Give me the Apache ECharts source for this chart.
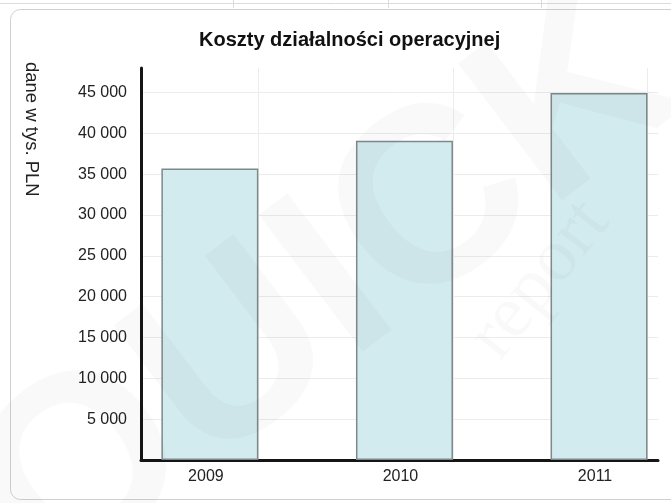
<!DOCTYPE html>
<html lang="pl" style="height: 100%">

<head>
  <meta charset="utf-8">
</head>

<body style="height: 100%; margin: 0; background: #fff">
  <div id="container" style="height: 100%"></div>

  <script type="text/javascript" src="https://cdn.jsdelivr.net/npm/echarts@6/dist/echarts.min.js"></script>

  <script type="text/javascript">
    // dane
    var years = [2009, 2010, 2011];
    var costs = [35700, 39100, 44950];
    var yTicks = [5000, 10000, 15000, 20000, 25000, 30000, 35000, 40000, 45000];
    var titleText = 'Koszty działalności operacyjnej';
    var unitText = 'dane w tys. PLN';

    var dom = document.getElementById('container');
    var myChart = echarts.init(dom, null, { renderer: 'canvas' });

    function spaced(v) {
      return String(v).replace(/\B(?=(\d{3})+(?!\d))/g, ' ');
    }

    var option = {
      animation: false,
      title: {
        text: titleText,
        left: 194,
        top: 25,
        textStyle: {
          fontFamily: 'Liberation Sans',
          fontSize: 20,
          fontWeight: 'bold',
          color: '#111'
        }
      },
      graphic: [
        {
          type: 'rect',
          shape: { x: 10.5, y: 9.5, width: 720, height: 490, r: 10 },
          style: { fill: 'none', stroke: '#cfcfcf', lineWidth: 1 },
          z: -1
        },
        {
          type: 'line',
          shape: { x1: 0, y1: 3.5, x2: 671, y2: 3.5 },
          style: { stroke: '#dcdcdc', lineWidth: 1 }
        },
        { type: 'line', shape: { x1: 233.5, y1: 0, x2: 233.5, y2: 8 }, style: { stroke: '#dcdcdc' } },
        { type: 'line', shape: { x1: 388.5, y1: 0, x2: 388.5, y2: 8 }, style: { stroke: '#dcdcdc' } },
        { type: 'line', shape: { x1: 541.5, y1: 0, x2: 541.5, y2: 8 }, style: { stroke: '#dcdcdc' } },
        {
          type: 'text',
          x: 22,
          y: 62,
          rotation: -Math.PI / 2,
          style: {
            text: unitText,
            fontFamily: 'Liberation Sans',
            fontSize: 18.5,
            fill: '#222',
            align: 'left',
            verticalAlign: 'bottom'
          }
        },
        // znak wodny
        {
          type: 'text',
          x: 330,
          y: 290,
          rotation: 0.65,
          z: 100,
          style: {
            text: 'QUICK',
            fontFamily: 'Liberation Sans',
            fontWeight: 'bold',
            fontSize: 250,
            fill: 'rgba(0,0,0,0.025)',
            align: 'center',
            verticalAlign: 'middle'
          }
        },
        {
          type: 'text',
          x: 540,
          y: 280,
          rotation: 0.9,
          z: 100,
          style: {
            text: 'report',
            fontFamily: 'Liberation Serif',
            fontSize: 75,
            fill: 'rgba(0,0,0,0.025)',
            align: 'center',
            verticalAlign: 'middle'
          }
        }
      ],
      grid: {
        left: 141,
        right: 13,
        top: 68,
        bottom: 43,
        containLabel: false
      },
      xAxis: {
        type: 'value',
        min: 2008.646,
        max: 2011.303,
        axisLine: {
          show: true,
          onZero: false,
          lineStyle: { color: '#151515', width: 3 }
        },
        axisTick: {
          show: false,
          customValues: years.map(function (y) { return y + 0.25; })
        },
        splitLine: {
          show: true,
          lineStyle: { color: '#ececec', width: 1 }
        },
        axisLabel: {
          customValues: years,
          formatter: function (v) { return String(v); },
          margin: 9,
          padding: [0, 8, 0, 0],
          fontFamily: 'Liberation Sans',
          fontSize: 16,
          color: '#222'
        }
      },
      yAxis: {
        type: 'value',
        min: 0,
        max: 48000,
        interval: 5000,
        axisLine: {
          show: true,
          lineStyle: { color: '#151515', width: 3 }
        },
        axisTick: { show: false },
        splitLine: {
          show: true,
          showMinLine: false,
          showMaxLine: false,
          lineStyle: { color: '#ececec', width: 1 }
        },
        axisLabel: {
          showMinLabel: false,
          showMaxLabel: false,
          margin: 14,
          fontFamily: 'Liberation Sans',
          fontSize: 16,
          color: '#222',
          formatter: function (v) {
            return yTicks.indexOf(v) >= 0 ? spaced(v) : '';
          }
        }
      },
      series: [
        {
          type: 'bar',
          barWidth: 97,
          data: years.map(function (y, i) { return [y, costs[i]]; }),
          itemStyle: {
            color: '#d2ebee',
            borderColor: '#7f898b',
            borderWidth: 1.5
          }
        }
      ]
    };

    myChart.setOption(option);
    window.addEventListener('resize', myChart.resize);
  </script>
</body>

</html>
